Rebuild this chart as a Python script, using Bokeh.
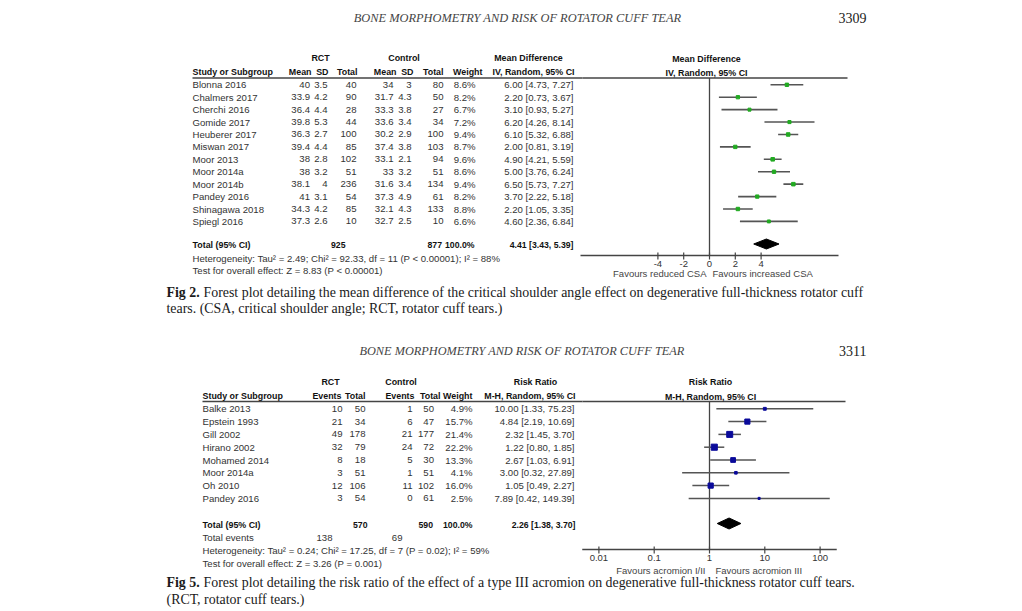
import math
from bokeh.plotting import figure
from bokeh.models import Range1d, LogScale
from bokeh.core.properties import value
from bokeh.embed import file_html
from bokeh.resources import INLINE

# ---------------- Fig 2 data (mean difference, CSA) ----------------
studies1 = ["Blonna 2016", "Chalmers 2017", "Cherchi 2016", "Gomide 2017", "Heuberer 2017",
            "Miswan 2017", "Moor 2013", "Moor 2014a", "Moor 2014b", "Pandey 2016",
            "Shinagawa 2018", "Spiegl 2016"]
rct_mean1 = [40, 33.9, 36.4, 39.8, 36.3, 39.4, 38, 38, 38.1, 41, 34.3, 37.3]
rct_sd1 = [3.5, 4.2, 4.4, 5.3, 2.7, 4.4, 2.8, 3.2, 4, 3.1, 4.2, 2.6]
rct_n1 = [40, 90, 28, 44, 100, 85, 102, 51, 236, 54, 85, 10]
ctl_mean1 = [34, 31.7, 33.3, 33.6, 30.2, 37.4, 33.1, 33, 31.6, 37.3, 32.1, 32.7]
ctl_sd1 = [3, 4.3, 3.8, 3.4, 2.9, 3.8, 2.1, 3.2, 3.4, 4.9, 4.3, 2.5]
ctl_n1 = [80, 50, 27, 34, 100, 103, 94, 51, 134, 61, 133, 10]
weight1 = [8.6, 8.2, 6.7, 7.2, 9.4, 8.7, 9.6, 8.6, 9.4, 8.2, 8.8, 6.6]
md1 = [6.00, 2.20, 3.10, 6.20, 6.10, 2.00, 4.90, 5.00, 6.50, 3.70, 2.20, 4.60]
lo1 = [4.73, 0.73, 0.93, 4.26, 5.32, 0.81, 4.21, 3.76, 5.73, 2.22, 1.05, 2.36]
hi1 = [7.27, 3.67, 5.27, 8.14, 6.88, 3.19, 5.59, 6.24, 7.27, 5.18, 3.35, 6.84]
total1 = {"rct_n": 925, "ctl_n": 877, "weight": 100.0, "md": 4.41, "lo": 3.43, "hi": 5.39}
het1 = "Heterogeneity: Tau\u00b2 = 2.49; Chi\u00b2 = 92.33, df = 11 (P < 0.00001); I\u00b2 = 88%"
test1 = "Test for overall effect: Z = 8.83 (P < 0.00001)"
axis1 = [-10, 10]
ticks1 = [-4, -2, 0, 2, 4]
favours1 = ["Favours reduced CSA", "Favours increased CSA"]

# ---------------- Fig 5 data (risk ratio, acromion) ----------------
studies2 = ["Balke 2013", "Epstein 1993", "Gill 2002", "Hirano 2002", "Mohamed 2014",
            "Moor 2014a", "Oh 2010", "Pandey 2016"]
rct_ev2 = [10, 21, 49, 32, 8, 3, 12, 3]
rct_n2 = [50, 34, 178, 79, 18, 51, 106, 54]
ctl_ev2 = [1, 6, 21, 24, 5, 1, 11, 0]
ctl_n2 = [50, 47, 177, 72, 30, 51, 102, 61]
weight2 = [4.9, 15.7, 21.4, 22.2, 13.3, 4.1, 16.0, 2.5]
rr2 = [10.00, 4.84, 2.32, 1.22, 2.67, 3.00, 1.05, 7.89]
lo2 = [1.33, 2.19, 1.45, 0.80, 1.03, 0.32, 0.49, 0.42]
hi2 = [75.23, 10.69, 3.70, 1.85, 6.91, 27.89, 2.27, 149.39]
total2 = {"rct_n": 570, "ctl_n": 590, "weight": 100.0, "rr": 2.26, "lo": 1.38, "hi": 3.70,
          "rct_ev": 138, "ctl_ev": 69}
het2 = "Heterogeneity: Tau\u00b2 = 0.24; Chi\u00b2 = 17.25, df = 7 (P = 0.02); I\u00b2 = 59%"
test2 = "Test for overall effect: Z = 3.26 (P = 0.001)"
axis2 = [0.005, 200]
ticks2 = [0.01, 0.1, 1, 10, 100]
tick_labels2 = ["0.01", "0.1", "1", "10", "100"]
favours2 = ["Favours acromion I/II", "Favours acromion III"]

# ---------------- figure (page-pixel coordinates) ----------------
W, H = 1022, 611
OX, OY = 0, 0
p = figure(width=W, height=H, output_backend="svg", toolbar_location=None,
           x_range=Range1d(OX, OX + W), y_range=Range1d(OY + H, OY),
           x_axis_location=None, y_axis_location=None, min_border=0,
           outline_line_color=None, background_fill_color="white",
           border_fill_color="white")
p.xgrid.visible = False
p.ygrid.visible = False

# scales for the two forest panels
MD_ZERO, MD_PX = 709, 12.9          # pixel of 0, px per unit
RR_ONE, RR_PX = 709, 55.3           # pixel of 1, px per decade
p.extra_x_ranges = {
    "md": Range1d((OX - MD_ZERO) / MD_PX, (OX + W - MD_ZERO) / MD_PX),
    "rr": Range1d(10 ** ((OX - RR_ONE) / RR_PX), 10 ** ((OX + W - RR_ONE) / RR_PX)),
}
p.extra_x_scales = {"rr": LogScale()}

SANS = "Liberation Sans"
SERIF = "Liberation Serif"
TS = "9.6px"     # table text
TB = "8.9px"     # table bold headers
TT = "8.7px"     # bold totals
BK = "#111111"


def txt(xs, ys, texts, size, align="left", style="normal", font=SANS,
        color="#333333", rng="default"):
    n = len(texts)
    if not isinstance(xs, (list, tuple)):
        xs = [xs] * n
    if not isinstance(ys, (list, tuple)):
        ys = [ys] * n
    p.text(x=list(xs), y=list(ys), text=list(texts), text_font=value(font),
           text_font_size=value(size), text_font_style=style, text_align=align,
           text_baseline="middle", text_color=color, x_range_name=rng)


def g(v):
    return f"{v:g}"


def ci(m, l, h):
    return f"{m:.2f} [{l:.2f}, {h:.2f}]"


HEAD = "BONE MORPHOMETRY AND RISK OF ROTATOR CUFF TEAR"
CAP = "13.9px"

# ================= page 3309 =================
txt(517, 17, [HEAD], "12.4px", align="center", style="italic", font=SERIF, color="#444444")
txt(866, 17, ["3309"], "14px", align="right", font=SERIF, color="#222222")

# table 1 headers
txt([320, 403.5, 528], 57.5, ["RCT", "Control", "Mean Difference"], TB, align="center",
    style="bold", color=BK)
txt(192, 71.5, ["Study or Subgroup"], TB, style="bold", color=BK)
txt([311, 328, 357, 396, 413, 443, 482, 574], 71.5,
    ["Mean", "SD", "Total", "Mean", "SD", "Total", "Weight", "IV, Random, 95% CI"],
    TB, align="right", style="bold", color=BK)
p.segment(x0=[192, 582], x1=[582, 847], y0=[77.5, 77.5], y1=[77.5, 77.5],
          line_color="#444444", line_width=1.3)

rows1 = [84.3 + 12.42 * i for i in range(len(studies1))]
txt(192, rows1, studies1, TS)
txt(309.5, rows1, [g(v) for v in rct_mean1], TS, align="right")
txt(327, rows1, [g(v) for v in rct_sd1], TS, align="right")
txt(356, rows1, [g(v) for v in rct_n1], TS, align="right")
txt(393, rows1, [g(v) for v in ctl_mean1], TS, align="right")
txt(411, rows1, [g(v) for v in ctl_sd1], TS, align="right")
txt(443, rows1, [g(v) for v in ctl_n1], TS, align="right")
txt(475, rows1, [f"{w:.1f}%" for w in weight1], TS, align="right")
txt(573, rows1, [ci(m, l, h) for m, l, h in zip(md1, lo1, hi1)], TS, align="right")

ty1 = 244.5
txt(192, ty1, ["Total (95% CI)"], TB, style="bold", color=BK)
txt(345, ty1, [g(total1["rct_n"])], TT, align="right", style="bold", color=BK)
txt(441.5, ty1, [g(total1["ctl_n"])], TT, align="right", style="bold", color=BK)
txt(474, ty1, [f"{total1['weight']:.1f}%"], TT, align="right", style="bold", color=BK)
txt(573, ty1, [ci(total1["md"], total1["lo"], total1["hi"])], TT, align="right",
    style="bold", color=BK)
txt(192, [258, 270], [het1, test1], TS)

# forest 1
txt(706, [58.5, 72.5], ["Mean Difference", "IV, Random, 95% CI"], TB, align="center",
    style="bold", color=BK)
AX1 = 255
p.segment(x0=[0], x1=[0], y0=[77.5], y1=[AX1], x_range_name="md",
          line_color="#444444", line_width=1.3)
p.segment(x0=lo1, x1=hi1, y0=rows1, y1=rows1, x_range_name="md",
          line_color="#555555", line_width=1.6)
p.scatter(x=md1, y=rows1, size=[1.15 * math.sqrt(w) for w in weight1], marker="square",
          fill_color="#22aa22", line_color="#22aa22", x_range_name="md")
p.patch(x=[total1["lo"], total1["md"], total1["hi"], total1["md"]],
        y=[ty1 - 1, ty1 - 6, ty1 - 1, ty1 + 4], x_range_name="md",
        fill_color="black", line_color="black")
p.segment(x0=[axis1[0]], x1=[axis1[1]], y0=[AX1], y1=[AX1], x_range_name="md",
          line_color="#444444", line_width=1.3)
p.segment(x0=ticks1, x1=ticks1, y0=[AX1 - 3] * len(ticks1), y1=[AX1 + 4] * len(ticks1),
          x_range_name="md", line_color="#444444", line_width=1.2)
txt(ticks1, 263.5, [str(t) for t in ticks1], "9.5px", align="center", rng="md")
txt(706, 272.5, [favours1[0]], "9.5px", align="right", color="#444444")
txt(712, 272.5, [favours1[1]], "9.5px", align="left", color="#444444")

# caption fig 2
txt(166, 291.5, ["Fig 2."], CAP, style="bold", font=SERIF, color="#1a1a1a")
txt(203, 291.5, ["Forest plot detailing the mean difference of the critical shoulder angle "
                 "effect on degenerative full-thickness rotator cuff"], CAP, font=SERIF,
    color="#1a1a1a")
txt(166, 307.5, ["tears. (CSA, critical shoulder angle; RCT, rotator cuff tears.)"], CAP,
    font=SERIF, color="#1a1a1a")

# ================= page 3311 =================
txt(521.5, 350.5, [HEAD], "12.3px", align="center", style="italic", font=SERIF,
    color="#444444")
txt(866, 350.5, ["3311"], "14px", align="right", font=SERIF, color="#222222")

txt([330, 400.5, 535], 381.5, ["RCT", "Control", "Risk Ratio"], TB, align="center",
    style="bold", color=BK)
txt(202, 395.5, ["Study or Subgroup"], TB, style="bold", color=BK)
txt([341, 365, 414, 440, 472, 575], 395.5,
    ["Events", "Total", "Events", "Total", "Weight", "M-H, Random, 95% CI"],
    TB, align="right", style="bold", color=BK)
p.segment(x0=[202, 582], x1=[582, 845], y0=[401, 401], y1=[401, 401],
          line_color="#444444", line_width=1.3)

rows2 = [408.3 + 12.8 * i for i in range(len(studies2))]
txt(202, rows2, studies2, TS)
txt(342, rows2, [g(v) for v in rct_ev2], TS, align="right")
txt(365, rows2, [g(v) for v in rct_n2], TS, align="right")
txt(412, rows2, [g(v) for v in ctl_ev2], TS, align="right")
txt(433.5, rows2, [g(v) for v in ctl_n2], TS, align="right")
txt(472, rows2, [f"{w:.1f}%" for w in weight2], TS, align="right")
txt(574, rows2, [ci(m, l, h) for m, l, h in zip(rr2, lo2, hi2)], TS, align="right")

ty2 = 524
txt(202, ty2, ["Total (95% CI)"], TB, style="bold", color=BK)
txt(367, ty2, [g(total2["rct_n"])], TT, align="right", style="bold", color=BK)
txt(432.5, ty2, [g(total2["ctl_n"])], TT, align="right", style="bold", color=BK)
txt(472, ty2, [f"{total2['weight']:.1f}%"], TT, align="right", style="bold", color=BK)
txt(575, ty2, [ci(total2["rr"], total2["lo"], total2["hi"])], TT, align="right",
    style="bold", color=BK)
txt(202, 537, ["Total events"], TS)
txt([332, 402], 537, [g(total2["rct_ev"]), g(total2["ctl_ev"])], TS, align="right")
txt(202, [550, 562.5], [het2, test2], TS)

# forest 2
txt(710, [381.5, 396], ["Risk Ratio", "M-H, Random, 95% CI"], TB, align="center",
    style="bold", color=BK)
AX2 = 549
p.segment(x0=[1], x1=[1], y0=[401], y1=[AX2], x_range_name="rr",
          line_color="#444444", line_width=1.3)
p.segment(x0=lo2, x1=hi2, y0=rows2, y1=rows2, x_range_name="rr",
          line_color="#555555", line_width=1.5)
p.scatter(x=rr2, y=rows2, size=[1.3 * math.sqrt(w) for w in weight2], marker="square",
          fill_color="#0a0a9a", line_color="#0a0a9a", x_range_name="rr")
p.patch(x=[total2["lo"], total2["rr"], total2["hi"], total2["rr"]],
        y=[ty2 - 1, ty2 - 6.5, ty2 - 1, ty2 + 4.5], x_range_name="rr",
        fill_color="black", line_color="black")
p.segment(x0=[axis2[0]], x1=[axis2[1]], y0=[AX2], y1=[AX2], x_range_name="rr",
          line_color="#444444", line_width=1.3)
p.segment(x0=ticks2, x1=ticks2, y0=[AX2 - 3] * len(ticks2), y1=[AX2 + 4] * len(ticks2),
          x_range_name="rr", line_color="#444444", line_width=1.2)
txt(ticks2, 557, tick_labels2, "9.5px", align="center", rng="rr")
txt(705, 570, [favours2[0]], "9.5px", align="right", color="#444444")
txt(715, 570, [favours2[1]], "9.5px", align="left", color="#444444")

# caption fig 5
txt(166, 581.5, ["Fig 5."], CAP, style="bold", font=SERIF, color="#1a1a1a")
txt(203, 581.5, ["Forest plot detailing the risk ratio of the effect of a type III acromion "
                 "on degenerative full-thickness rotator cuff tears."], CAP, font=SERIF,
    color="#1a1a1a")
txt(166, 599, ["(RCT, rotator cuff tears.)"], CAP, font=SERIF, color="#1a1a1a")

open("out.html", "w").write(file_html(p, INLINE))
